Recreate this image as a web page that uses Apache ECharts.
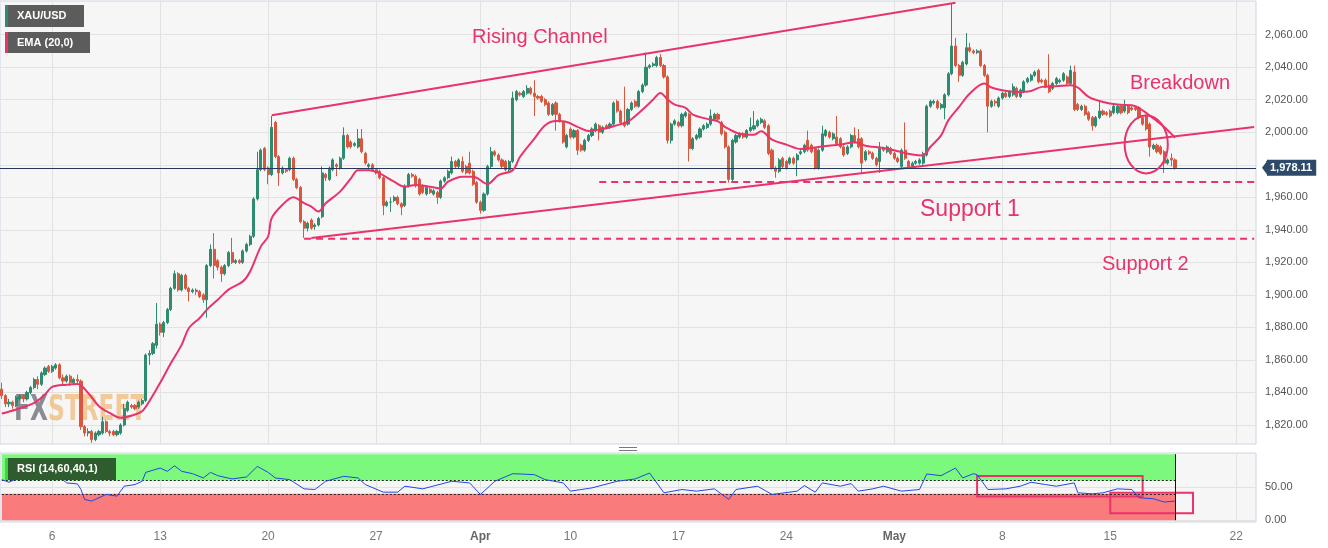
<!DOCTYPE html>
<html>
<head>
<meta charset="utf-8">
<script src="https://cdn.jsdelivr.net/npm/echarts@6/dist/echarts.min.js"></script>
<style>
html,body{margin:0;padding:0;background:#fff;}
#c{width:1328px;height:548px;}
</style>
</head>
<body>
<div id="c"></div>
<script>
// ---------- DATA (4-hour candles, [open, close, low, high]) ----------
const wkMar1 = [[1842,1838,1836,1846],[1838,1833,1831,1839],[1833,1834,1831,1836],[1834,1832,1830,1835],[1832,1837,1831,1838],[1836,1838,1835,1839],[1838,1836,1834,1839],[1836,1840,1835,1841],[1840,1843,1839,1844],[1843,1848,1842,1849],[1848,1845,1842,1850],[1845,1852,1844,1853],[1851,1855,1850,1856],[1856,1853,1852,1857]];
const wkMar6 = [[1853,1856,1852,1857],[1855,1857,1854,1858],[1857,1849,1848,1858],[1849,1847,1845,1851],[1847,1850,1846,1851],[1850,1846,1844,1851],[1846,1848,1845,1849],[1848,1847,1845,1851],[1847,1819,1817,1848],[1819,1815,1813,1820],[1815,1816,1813,1818],[1816,1811,1809,1817],[1811,1815,1810,1816],[1814,1816,1813,1817],[1815,1822,1814,1825],[1822,1816,1815,1823],[1816,1815,1813,1817],[1816,1814,1813,1817],[1814,1816,1813,1817],[1815,1820,1814,1821],[1820,1830,1819,1833],[1829,1834,1828,1835],[1832,1831,1830,1833],[1832,1830,1829,1833],[1831,1834,1830,1835],[1833,1835,1832,1836],[1835,1863,1834,1864],[1863,1864,1857,1866],[1864,1870,1863,1871],[1869,1882,1867,1895]];
const wkMar13 = [[1882,1877,1875,1883],[1877,1883,1874,1884],[1883,1891,1882,1892],[1891,1904,1890,1905],[1904,1913,1903,1915],[1913,1903,1902,1914],[1903,1912,1902,1913],[1912,1904,1903,1913],[1904,1902,1896,1905],[1902,1903,1901,1904],[1903,1902,1900,1904],[1902,1899,1898,1903],[1900,1897,1895,1901],[1897,1918,1886,1919],[1918,1928,1917,1931],[1928,1918,1910,1938],[1921,1917,1915,1922],[1917,1913,1908,1918],[1913,1918,1912,1919],[1918,1926,1917,1927],[1926,1920,1919,1935],[1920,1921,1919,1922],[1921,1920,1919,1922],[1920,1927,1919,1928],[1927,1931,1926,1932],[1931,1936,1930,1937],[1936,1959,1935,1960],[1959,1977,1958,1988],[1977,1989,1976,1990],[1990,1977,1976,1991]];
const wkMar20 = [[1978,1974,1968,1979],[1974,2003,1973,2010],[2006,1985,1984,2007],[1985,1975,1967,1986],[1975,1978,1974,1979],[1977,1976,1975,1978],[1977,1984,1976,1985],[1984,1971,1970,1985],[1971,1966,1965,1972],[1966,1945,1944,1967],[1945,1941,1935,1946],[1941,1944,1939,1945],[1946,1941,1940,1947],[1942,1943,1940,1944],[1943,1947,1942,1948],[1948,1975,1947,1979],[1974,1972,1970,1975],[1971,1978,1970,1979],[1977,1983,1976,1984],[1980,1979,1973,1981],[1978,1984,1977,1985],[1984,1998,1983,2003],[1998,1991,1990,1999],[1994,1991,1990,1995],[1992,1993,1991,1994],[1991,1996,1990,2002],[1996,1988,1987,2002],[1987,1981,1980,1988],[1979,1980,1977,1981],[1980,1977,1976,1981]];
const wkMar27 = [[1977,1975,1974,1978],[1976,1972,1971,1977],[1972,1955,1949,1973],[1955,1957,1954,1958],[1957,1957,1951,1960],[1958,1960,1957,1961],[1960,1956,1955,1961],[1956,1954,1949,1957],[1955,1967,1954,1968],[1967,1974,1966,1975],[1974,1973,1972,1975],[1973,1967,1966,1974],[1971,1962,1961,1972],[1967,1963,1962,1968],[1962,1966,1961,1967],[1965,1963,1962,1966],[1962,1964,1961,1965],[1963,1960,1956,1964],[1960,1970,1959,1971],[1970,1972,1969,1973],[1972,1976,1971,1977],[1975,1982,1974,1985],[1982,1979,1978,1983],[1979,1983,1978,1984],[1982,1976,1975,1985],[1979,1975,1974,1980],[1981,1975,1974,1988],[1976,1968,1967,1977],[1969,1957,1956,1970]];
const wkApr3 = [[1957,1952,1950,1958],[1952,1962,1951,1963],[1962,1979,1961,1980],[1979,1988,1978,1991],[1988,1986,1985,1989],[1986,1983,1982,1987],[1983,1979,1978,1984],[1982,1977,1976,1983],[1977,1982,1976,1983],[1982,2021,1981,2025],[2020,2025,2019,2026],[2024,2023,2022,2025],[2022,2025,2021,2026],[2024,2027,2023,2029],[2027,2024,2023,2028],[2024,2022,2010,2032],[2022,2021,2020,2023],[2022,2019,2018,2023],[2020,2017,2016,2021],[2018,2011,2010,2019],[2011,2017,2010,2018],[2018,2011,2001,2019],[2011,2007,2006,2012],[2006,1994,1993,2007],[1991,1998,1990,1999]];
const wkApr10 = [[2002,1997,1996,2003],[1997,2001,1996,2002],[2001,1989,1986,2002],[1992,1989,1988,1993],[1989,1995,1988,1996],[1995,1998,1994,1999],[1998,2002,1997,2003],[2001,2005,2000,2006],[2004,2000,1995,2005],[2000,2003,1999,2004],[2004,2003,2002,2005],[2003,2005,2002,2006],[2005,2018,2004,2019],[2019,2013,2012,2020],[2013,2006,2005,2014],[2006,2004,2003,2028],[2005,2014,2004,2015],[2014,2018,2013,2019],[2019,2016,2015,2020],[2016,2025,2015,2026],[2025,2029,2024,2030],[2029,2040,2028,2049],[2040,2041,2039,2042],[2041,2042,2040,2043],[2041,2046,2040,2047],[2046,2041,2040,2048],[2041,2034,2033,2042],[2034,1995,1993,2035],[1995,2005,1993,2006],[2005,2007,2004,2008]];
const wkApr17 = [[2006,2004,2003,2007],[2004,2011,2003,2012],[2010,2012,2009,2013],[2011,1990,1982,2012],[1990,1996,1989,1997],[1996,1998,1995,1999],[1997,2002,1996,2003],[2002,2004,2001,2005],[2003,2005,2002,2006],[2005,2010,2004,2014],[2008,2011,2007,2012],[2011,2008,2007,2012],[2006,1999,1998,2007],[2000,1991,1990,2001],[1991,1971,1969,1992],[1971,1995,1970,1996],[1994,1998,1993,1999],[1997,1999,1996,2000],[1999,1997,1996,2000],[1997,2001,1996,2002],[2001,2003,2000,2009],[2002,2004,2001,2013],[2004,2007,2003,2008],[2006,2008,2005,2009],[2007,2003,2002,2008],[2004,1987,1986,2005],[1989,1978,1977,1990],[1978,1976,1972,1979],[1976,1983,1975,1984],[1984,1979,1978,1985]];
const wkApr24 = [[1982,1978,1977,1983],[1981,1984,1980,1985],[1984,1981,1980,1985],[1983,1986,1973,1987],[1987,1988,1986,1989],[1988,1992,1987,1993],[1995,1989,1988,2001],[1992,1988,1987,1993],[1990,1978,1977,1991],[1978,1989,1977,1990],[1989,1999,1988,2004],[1998,2001,1997,2002],[2000,1997,1996,2001],[1996,1999,1995,2000],[1997,1993,1992,2010],[1996,1991,1990,1997],[1991,1986,1985,1992],[1987,1991,1986,1992],[1991,1998,1990,1999],[1998,1994,1993,2003],[1996,1991,1990,2002],[1996,1981,1975,1997],[1983,1988,1982,1989],[1988,1987,1986,1989],[1987,1984,1983,1988],[1984,1980,1979,1985],[1982,1990,1975,1994],[1990,1989,1988,1991],[1988,1991,1987,1992],[1990,1987,1986,1991]];
const wkMay1 = [[1987,1984,1983,1988],[1984,1982,1981,1985],[1979,1989,1978,1990],[1989,1984,1983,2006],[1982,1979,1978,1983],[1979,1981,1978,1982],[1981,1982,1980,1983],[1981,1983,1980,1984],[1981,1987,1980,1988],[1986,2016,1985,2017],[2016,2019,2015,2020],[2018,2019,2017,2020],[2019,2015,2014,2020],[2015,2017,2014,2018],[2015,2023,2008,2024],[2023,2036,2022,2037],[2036,2053,2035,2079],[2053,2041,2040,2058],[2041,2035,2031,2042],[2035,2043,2034,2044],[2042,2052,2041,2061],[2052,2050,2049,2055],[2050,2049,2048,2051],[2049,2050,2048,2051],[2050,2041,2040,2051],[2041,2035,2034,2042],[2035,2016,2000,2036],[2016,2019,2015,2020],[2019,2018,2016,2020],[2016,2021,2015,2022]];
const wkMay8 = [[2021,2024,2020,2025],[2024,2022,2021,2025],[2022,2025,2021,2026],[2023,2028,2022,2030],[2027,2022,2021,2028],[2022,2026,2021,2027],[2025,2031,2024,2032],[2031,2033,2030,2034],[2032,2035,2031,2036],[2035,2037,2034,2038],[2038,2031,2030,2039],[2032,2031,2030,2033],[2032,2028,2027,2033],[2029,2025,2024,2048],[2027,2030,2026,2031],[2030,2033,2029,2034],[2031,2032,2030,2033],[2032,2036,2031,2037],[2034,2030,2029,2035],[2030,2038,2029,2041],[2037,2014,2013,2041],[2017,2014,2013,2018],[2014,2016,2013,2017],[2016,2011,2010,2017],[2012,2008,2007,2013],[2009,2004,2001,2010],[2004,2009,2003,2010],[2009,2013,2008,2019],[2013,2011,2010,2014],[2012,2011,2010,2013]];
const wkMay15 = [[2013,2010,2009,2014],[2012,2016,2011,2017],[2012,2016,2011,2017],[2016,2012,2011,2017],[2013,2016,2012,2020],[2016,2012,2011,2017],[2015,2014,2013,2016],[2015,2014,2013,2016],[2015,2009,2008,2016],[2009,2005,2004,2010],[2010,2002,2001,2011],[2005,1991,1985,2006],[1990,1992,1989,1993],[1992,1988,1987,1993],[1991,1987,1986,1992],[1988,1981,1975,1989],[1981,1983,1980,1984],[1984,1983,1979,1987],[1983,1978.11,1977,1984]];

// EMA(20,0): candle index -> value
const emaIdx = [0,4,9,12,14,18,21,24,27,30,33,37,39,41,44,47,50,52,55,57,60,63,67,69,72,74,75,78,81,84,86,88,90,94,97,99,102,105,109,112,115,119,122,124,128,131,135,138,142,144,148,151,154,157,160,163,166,170,174,177,181,183,185,187,190,192,196,199,201,205,209,211,214,218,222,225,228,233,237,240,245,249,253,256,258,261,263,266,269,273,275,278,282,286,289,293,297,299,302,306,310,314,317,320,323,326];
const emaVal = [1827,1829.5,1833.6,1838.7,1843.4,1844.8,1845.2,1839.7,1831.5,1827.4,1824.4,1826.4,1828.5,1834.6,1845.9,1858.1,1869.4,1879.6,1885.8,1890.9,1897,1903.2,1908.3,1914.4,1929.8,1935.9,1947.2,1955.4,1960.1,1956.4,1954.3,1951.2,1956.3,1963.5,1971.6,1976.7,1976.7,1974.7,1969.6,1966.5,1967.6,1966.5,1965.5,1969.6,1972.7,1972.7,1968.2,1973.7,1976.7,1984.9,1996.1,2004.3,2006.9,2006.3,2003.3,2000.8,2001.6,2003.7,2006.7,2011.9,2020.1,2024.2,2020.1,2017,2015,2010.8,2008.2,2006.7,2003.2,1999.1,1998.5,2000.6,1995.4,1992.4,1989.7,1990.3,1991.3,1992.4,1993.8,1991.7,1990.3,1988.3,1986.3,1985.7,1990.9,1998.1,2007.3,2015.6,2023.8,2030,2027.5,2025.8,2024.8,2025.4,2027.9,2028.3,2028.9,2027.5,2021.7,2018.6,2017,2016.6,2013.5,2008.4,2003.2,1996.6];

// RSI(14): candle index -> value
const rsiIdx = [0,2,4,7,9,12,14,16,18,21,22,23,25,27,29,32,34,37,39,40,44,46,48,50,53,56,58,60,64,68,71,74,76,80,84,87,90,95,99,101,106,110,112,117,125,130,133,137,142,148,151,156,158,164,171,176,180,184,189,193,198,202,204,210,214,221,223,226,228,233,236,238,242,245,250,255,257,261,265,267,270,271,274,279,283,286,290,293,298,299,303,306,310,314,316,320,323,326];
const rsiVal = [61.5,57.5,62.5,64,67.5,70.5,69,65.5,56.5,55,46.5,31.5,29,34,39,36.5,51.5,54,59,72.5,79,74,82.5,74,70.5,64,72.5,67.5,62.5,65.5,81.5,72.5,64,61.5,47.5,46.5,59,66.5,64,54,42.5,42.5,51.5,47.5,59,56.5,39,59,70.5,69,61.5,56.5,44,49,59,62.5,71.5,41.5,46.5,44,47.5,31.5,46.5,51.5,39,44,52.5,42.5,56.5,51.5,55.5,44,47.5,51.5,44,46.5,70,67.5,79,64,70.5,69,46.5,47.5,51.5,57.5,54,51.5,56.5,41.5,40,41.5,47.5,46.5,34,32.5,27.5,29];

// Drawn annotations (candle index, price)
const upperChannel = [[75, 2010.5], [265, 2079.6]];
const lowerChannel = [[86, 1935], [348, 2003.2]];
const support1 = 1969.4, support1Start = 166;
const support2 = 1934.5, support2Start = 84;
const lastPrice = 1978.11;
const breakdownBox = [[312, 2010.3], [324, 1974.7]];
const rsiBox1 = [[271, 67], [317, 36]];
const rsiBox2 = [[308, 41.5], [331, 10.5]];

// Tick labels
const priceTicks = [1820,1840,1860,1880,1900,1920,1940,1960,1980,2000,2020,2040,2060];
const rsiTicks = [0, 50];
const dayLabels = ['6','13','20','27','Apr','10','17','24','May','8','15','22'];
const dayLabelIdx = [14,44,74,104,133,158,188,218,248,278,308,343];

// ---------- BUILD ----------
const candles = [].concat(wkMar1, wkMar6, wkMar13, wkMar20, wkMar27, wkApr3, wkApr10, wkApr17, wkApr24, wkMay1, wkMay8, wkMay15);
const NCAT = 349;
const lastIdx = candles.length - 1;
const cats = Array.from({length: NCAT}, (_, i) => String(i));
const labelAt = {};
dayLabelIdx.forEach((k, i) => { labelAt[k] = dayLabels[i]; });
const isLabel = (index) => labelAt[index] !== undefined;
const emaData = emaIdx.map((k, i) => [k, emaVal[i]]);
const rsiData = rsiIdx.map((k, i) => [k, rsiVal[i]]);
const fmtPrice = v => Number(v).toLocaleString('en-US', {minimumFractionDigits: 2, maximumFractionDigits: 2});

const PINK = '#e8336b';
const UP = '#2e8b6f', DOWN = '#d9573f';
const TAG = '#2e4a6b';
const FONT = '"Liberation Sans", Arial, sans-serif';

const lineSeries = (data, dashed) => ({
  type: 'line', xAxisIndex: 0, yAxisIndex: 0, data: data, symbol: 'none', silent: true,
  lineStyle: {color: PINK, width: 2, type: dashed ? [7, 5] : 'solid'}, z: 4
});

const option = {
  animation: false,
  backgroundColor: '#ffffff',
  textStyle: {fontFamily: FONT},
  grid: [
    {left: 0, top: 1, width: 1256, height: 443, show: true, backgroundColor: '#f6f6f6', borderColor: '#cfd4e2', borderWidth: 1},
    {left: 0, top: 453, width: 1256, height: 69, show: true, backgroundColor: '#f6f6f6', borderColor: '#cfd4e2', borderWidth: 1}
  ],
  xAxis: [
    {type: 'category', gridIndex: 0, data: cats, boundaryGap: true,
     axisLine: {show: false}, axisTick: {show: false}, axisLabel: {show: false},
     splitLine: {show: true, interval: isLabel, alignWithLabel: true, lineStyle: {color: '#e2e2e2', width: 1}}},
    {type: 'category', gridIndex: 1, data: cats, boundaryGap: true,
     axisLine: {show: false}, axisTick: {show: false},
     axisLabel: {show: true, interval: isLabel, margin: 9, color: '#777', fontSize: 12, fontFamily: FONT,
       formatter: (v) => { const t = labelAt[Number(v)]; if (t === undefined) return ''; return (t === 'Apr' || t === 'May') ? '{b|' + t + '}' : t; },
       rich: {b: {fontWeight: 'bold', color: '#666', fontSize: 12, fontFamily: FONT}}},
     splitLine: {show: true, interval: isLabel, alignWithLabel: true, lineStyle: {color: '#e2e2e2', width: 1}}}
  ],
  yAxis: [
    {type: 'value', gridIndex: 0, position: 'right', min: 1808.3, max: 2080.7,
     axisLine: {show: false}, axisTick: {show: false, customValues: priceTicks},
     axisLabel: {customValues: priceTicks, formatter: fmtPrice, color: '#555', fontSize: 11, margin: 9, fontFamily: FONT},
     splitLine: {show: true, lineStyle: {color: '#e2e2e2'}}},
    {type: 'value', gridIndex: 1, position: 'right', min: -2.7, max: 101.8,
     axisLine: {show: false}, axisTick: {show: false, customValues: rsiTicks},
     axisLabel: {customValues: rsiTicks, formatter: v => Number(v).toFixed(2), color: '#555', fontSize: 11, margin: 9, fontFamily: FONT},
     splitLine: {show: true, lineStyle: {color: '#e2e2e2'}}}
  ],
  series: [
    {type: 'candlestick', name: 'XAU/USD', xAxisIndex: 0, yAxisIndex: 0, data: candles, barWidth: 2.6,
     itemStyle: {color: UP, color0: DOWN, borderColor: UP, borderColor0: DOWN, borderWidth: 1},
     z: 3,
     markLine: {silent: true, symbol: ['none', 'none'], animation: false,
       lineStyle: {color: '#22375a', width: 1, type: 'solid'},
       label: {show: true, position: 'end', distance: 11, formatter: fmtPrice(lastPrice), color: '#fff', fontWeight: 'bold', fontSize: 11,
               backgroundColor: TAG, padding: [3, 4, 2, 3], fontFamily: FONT},
       data: [{yAxis: lastPrice}]}},
    {type: 'line', name: 'EMA (20,0)', xAxisIndex: 0, yAxisIndex: 0, data: emaData, symbol: 'none', smooth: 0.35, silent: true,
     lineStyle: {color: PINK, width: 2}, z: 5},
    lineSeries(upperChannel, false),
    lineSeries(lowerChannel, false),
    lineSeries([[support1Start, support1], [NCAT - 1, support1]], true),
    lineSeries([[support2Start, support2], [NCAT - 1, support2]], true),
    {type: 'line', name: 'RSI', xAxisIndex: 1, yAxisIndex: 1, data: rsiData, symbol: 'none', silent: true,
     lineStyle: {color: '#2347e6', width: 1}, z: 5,
     markArea: {silent: true, data: [
       [{xAxis: 0, yAxis: 60, itemStyle: {color: '#7cf97c', opacity: 1}}, {xAxis: lastIdx, yAxis: 100}],
       [{xAxis: 0, yAxis: 0, itemStyle: {color: '#f97b7b', opacity: 1}}, {xAxis: lastIdx, yAxis: 40}]
     ]},
     markLine: {silent: true, symbol: ['none', 'none'], label: {show: false}, animation: false,
       data: [
         [{coord: [0, 60], lineStyle: {color: '#222', width: 1, type: [2, 2]}}, {coord: [lastIdx, 60]}],
         [{coord: [0, 40], lineStyle: {color: '#222', width: 1, type: [2, 2]}}, {coord: [lastIdx, 40]}],
         [{coord: [lastIdx, 0], lineStyle: {color: '#111', width: 1, type: 'solid'}}, {coord: [lastIdx, 100]}]
       ]}},
    {type: 'line', xAxisIndex: 1, yAxisIndex: 1, data: [], symbol: 'none', silent: true, z: 6,
     markArea: {silent: true, data: [
       [{xAxis: rsiBox1[0][0], yAxis: rsiBox1[0][1], itemStyle: {color: 'rgba(0,0,0,0)', borderColor: PINK, borderWidth: 2}}, {xAxis: rsiBox1[1][0], yAxis: rsiBox1[1][1]}],
       [{xAxis: rsiBox2[0][0], yAxis: rsiBox2[0][1], itemStyle: {color: 'rgba(0,0,0,0)', borderColor: PINK, borderWidth: 2}}, {xAxis: rsiBox2[1][0], yAxis: rsiBox2[1][1]}]
     ]}}
  ]
};

const chart = echarts.init(document.getElementById('c'));
chart.setOption(option);

const pA = chart.convertToPixel({gridIndex: 0}, breakdownBox[0]);
const pB = chart.convertToPixel({gridIndex: 0}, breakdownBox[1]);
const pLast = chart.convertToPixel({gridIndex: 0}, [lastIdx, lastPrice]);

function tagBox(x, y, w, h, bg, bar, text) {
  return [
    {type: 'rect', shape: {x: x, y: y, width: w, height: h}, style: {fill: bg}, z: 20, silent: true},
    {type: 'rect', shape: {x: x, y: y, width: 3, height: h}, style: {fill: bar}, z: 21, silent: true},
    {type: 'text', x: x + 12, y: y + h / 2, style: {text: text, fill: '#ffffff', fontSize: 11, fontWeight: 'bold', fontFamily: FONT, verticalAlign: 'middle'}, z: 22, silent: true}
  ];
}
function note(text, x, y, size) {
  return {type: 'text', x: x, y: y, style: {text: text, fill: PINK, fontSize: size, fontFamily: FONT, verticalAlign: 'middle'}, z: 20, silent: true};
}

const graphics = [].concat(
  tagBox(5, 5, 79, 22, '#5c5c5c', UP, 'XAU/USD'),
  tagBox(5, 32, 85, 21, '#5c5c5c', PINK, 'EMA (20,0)'),
  tagBox(5, 458, 111, 22, '#2f5c2f', '#3fd43f', 'RSI (14,60,40,1)'),
  [
    {type: 'text', x: 14, y: 411, scaleX: 0.72, z: 1, silent: true,
     style: {text: '{a|FX}{b|STREET}', verticalAlign: 'middle',
       rich: {a: {fill: 'rgba(120,120,132,0.85)', fontSize: 36, fontWeight: 'bold', fontFamily: '"Liberation Sans Narrow", "DejaVu Sans Condensed", sans-serif'},
              b: {fill: 'rgba(240,185,120,0.75)', fontSize: 36, fontWeight: 'bold', fontFamily: '"Liberation Sans Narrow", "DejaVu Sans Condensed", sans-serif'}}}},
    note('Rising Channel', 472, 37, 20),
    note('Breakdown', 1130, 83, 20),
    note('Support 1', 920, 210, 23),
    note('Support 2', 1102, 264, 20),
    {type: 'line', shape: {x1: 619, y1: 447.5, x2: 637, y2: 447.5}, style: {stroke: '#777', lineWidth: 1}, z: 20, silent: true},
    {type: 'line', shape: {x1: 619, y1: 450.5, x2: 637, y2: 450.5}, style: {stroke: '#777', lineWidth: 1}, z: 20, silent: true},
    {type: 'polygon', shape: {points: [[1262, pLast[1]], [1268, pLast[1] - 8], [1268, pLast[1] + 8]]}, style: {fill: TAG}, z: 30, silent: true},
    {type: 'ellipse', shape: {cx: (pA[0] + pB[0]) / 2, cy: (pA[1] + pB[1]) / 2, rx: Math.abs(pB[0] - pA[0]) / 2, ry: Math.abs(pB[1] - pA[1]) / 2},
     style: {fill: 'none', stroke: PINK, lineWidth: 2}, z: 20, silent: true}
  ]
);
chart.setOption({graphic: {elements: graphics}});
</script>
</body>
</html>
